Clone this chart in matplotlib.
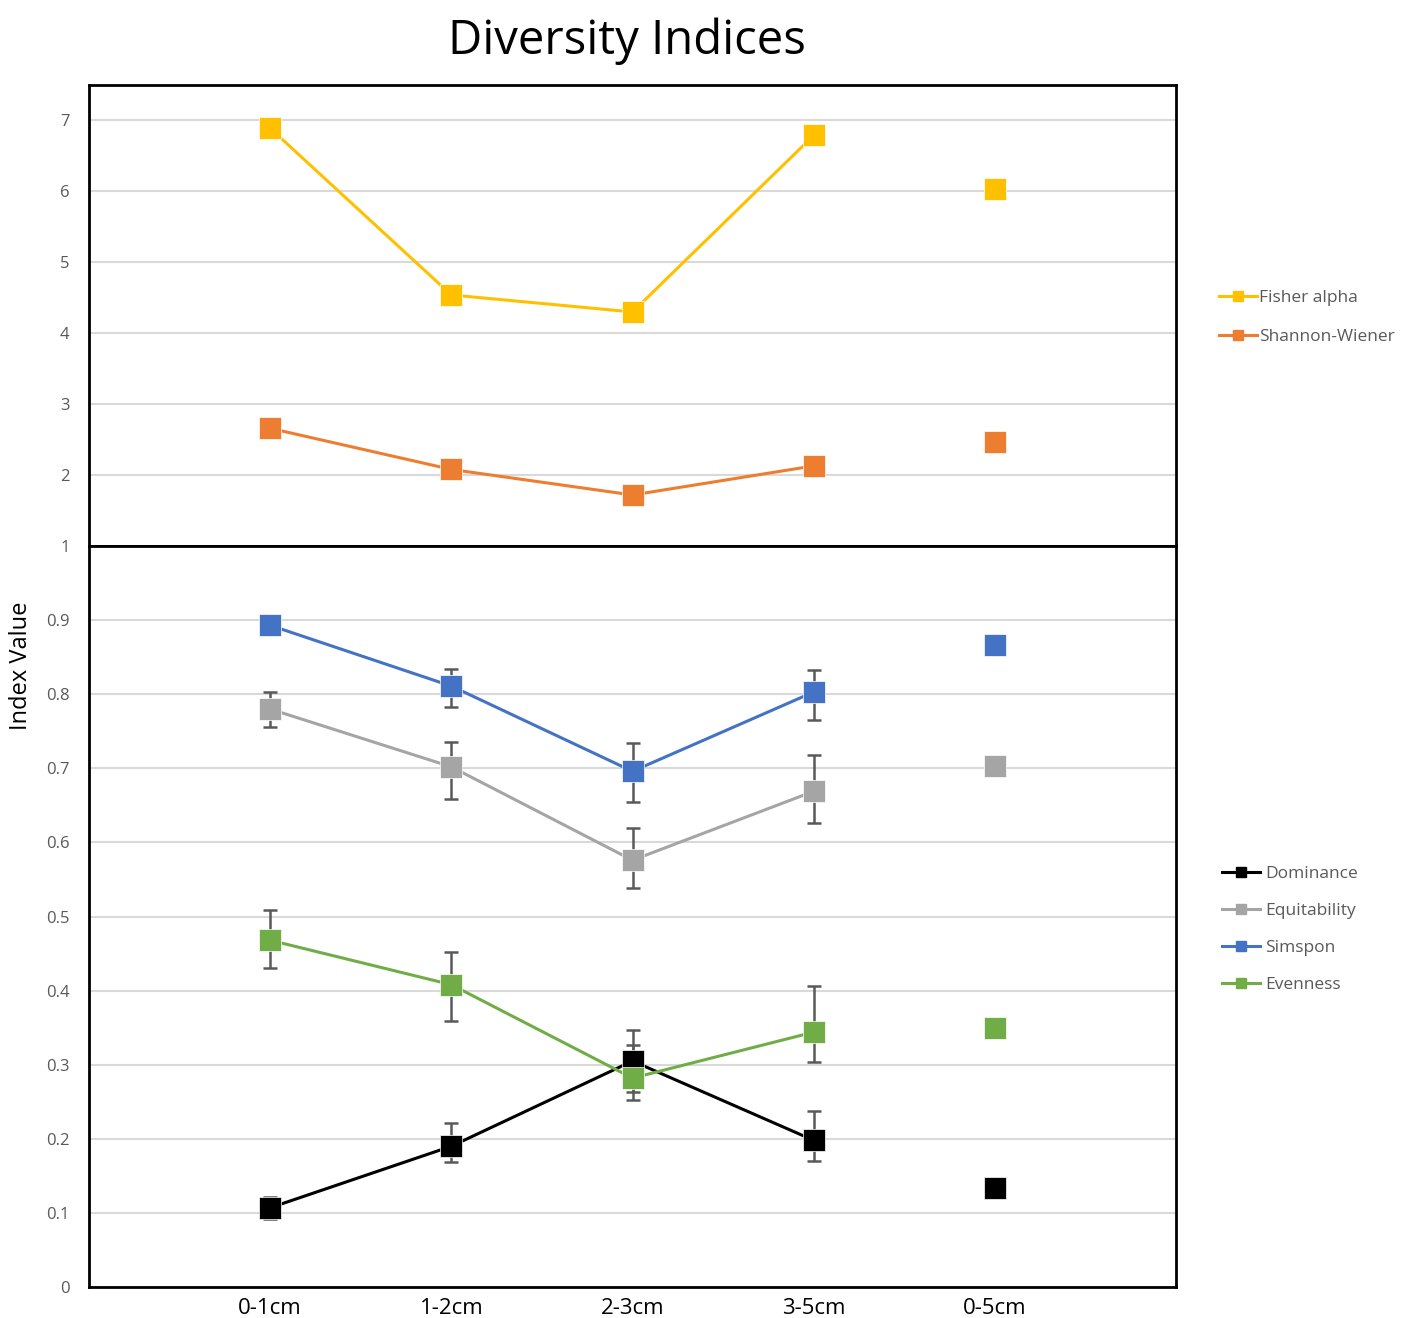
import matplotlib.pyplot as plt

plt.rcParams['font.family'] = ['Open Sans', 'DejaVu Sans']

# depth intervals
depths = ["0-1cm", "1-2cm", "2-3cm", "3-5cm", "0-5cm"]

# upper panel indices (no error bars)
fisher_alpha = [6.89, 4.54, 4.30, 6.79, 6.03]
shannon = [2.66, 2.08, 1.72, 2.13, 2.46]

# lower panel indices, with (lower, upper) error
dominance = [0.107, 0.190, 0.305, 0.198, 0.134]
dominance_err = [[0.015, 0.021, 0.042, 0.028, 0.0],
                 [0.015, 0.031, 0.042, 0.040, 0.0]]
equitability = [0.780, 0.702, 0.576, 0.669, 0.703]
equitability_err = [[0.024, 0.043, 0.038, 0.043, 0.0],
                     [0.023, 0.033, 0.043, 0.049, 0.0]]
simpson = [0.893, 0.811, 0.696, 0.803, 0.866]
simpson_err = [[0.0, 0.028, 0.041, 0.038, 0.0],
                [0.0, 0.023, 0.038, 0.030, 0.0]]
evenness = [0.468, 0.408, 0.282, 0.344, 0.350]
evenness_err = [[0.038, 0.049, 0.030, 0.040, 0.0],
                [0.041, 0.044, 0.045, 0.062, 0.0]]

x = list(range(1, len(depths) + 1))
n_line = len(depths) - 1  # last point (0-5cm) is not connected

fig = plt.figure(figsize=(14.13, 13.18), dpi=100)
ax_top = fig.add_axes([0.063, 0.5857, 0.7693, 0.3498])
ax_bot = fig.add_axes([0.063, 0.0235, 0.7693, 0.5622])

msize = 16
lw = 2.2
ecol = '#595959'


def series(ax, y, color, label, err=None):
    ax.plot(x[:n_line], y[:n_line], color=color, lw=lw, zorder=3)
    if err is not None:
        ax.errorbar(x, y, yerr=err, fmt='none', ecolor=ecol, elinewidth=1.8,
                    capsize=5, capthick=1.8, zorder=4)
    ax.plot(x, y, ls='none', marker='s', ms=msize, color=color,
            mec='white', mew=0.5, zorder=5)
    # legend handle
    ax.plot([], [], color=color, lw=lw, marker='s', ms=7, label=label)


series(ax_top, fisher_alpha, '#FFC000', 'Fisher alpha')
series(ax_top, shannon, '#ED7D31', 'Shannon-Wiener')

series(ax_bot, dominance, '#000000', 'Dominance', dominance_err)
series(ax_bot, equitability, '#A5A5A5', 'Equitability', equitability_err)
series(ax_bot, simpson, '#4472C4', 'Simspon', simpson_err)
series(ax_bot, evenness, '#70AD47', 'Evenness', evenness_err)

ax_top.set_ylim(1, 7.5)
ax_top.set_yticks(range(1, 8))
ax_bot.set_ylim(0, 1)
ax_bot.set_yticks([i / 10 for i in range(10)])
ax_bot.set_yticklabels(['0'] + ['%.1f' % (i / 10) for i in range(1, 10)])

for ax in (ax_top, ax_bot):
    ax.set_xlim(0, 6)
    ax.set_xticks(x)
    ax.grid(axis='y', color='#D9D9D9', lw=1.5)
    ax.set_axisbelow(True)
    ax.tick_params(length=0, labelsize=12, labelcolor='#595959', pad=14)
    for s in ax.spines.values():
        s.set_linewidth(2)
        s.set_color('black')

ax_top.set_xticklabels([])
ax_bot.set_xticklabels(depths, fontsize=16, color='black')
ax_bot.tick_params(axis='x', pad=8)

ax_top.legend(loc='center left', bbox_to_anchor=(1.025, 0.496), frameon=False,
              fontsize=12.5, labelcolor='#595959', handlelength=2.2,
              handletextpad=0.1, labelspacing=1.35)
ax_bot.legend(loc='center left', bbox_to_anchor=(1.028, 0.483), frameon=False,
              fontsize=12.5, labelcolor='#595959', handlelength=2.2,
              handletextpad=0.3, labelspacing=1.2)

fig.text(0.444, 0.969, 'Diversity Indices', ha='center', va='center', fontsize=34)
fig.text(0.015, 0.495, 'Index Value', rotation=90, ha='center', va='center',
         fontsize=17)

fig.savefig('out.png', dpi=100)
